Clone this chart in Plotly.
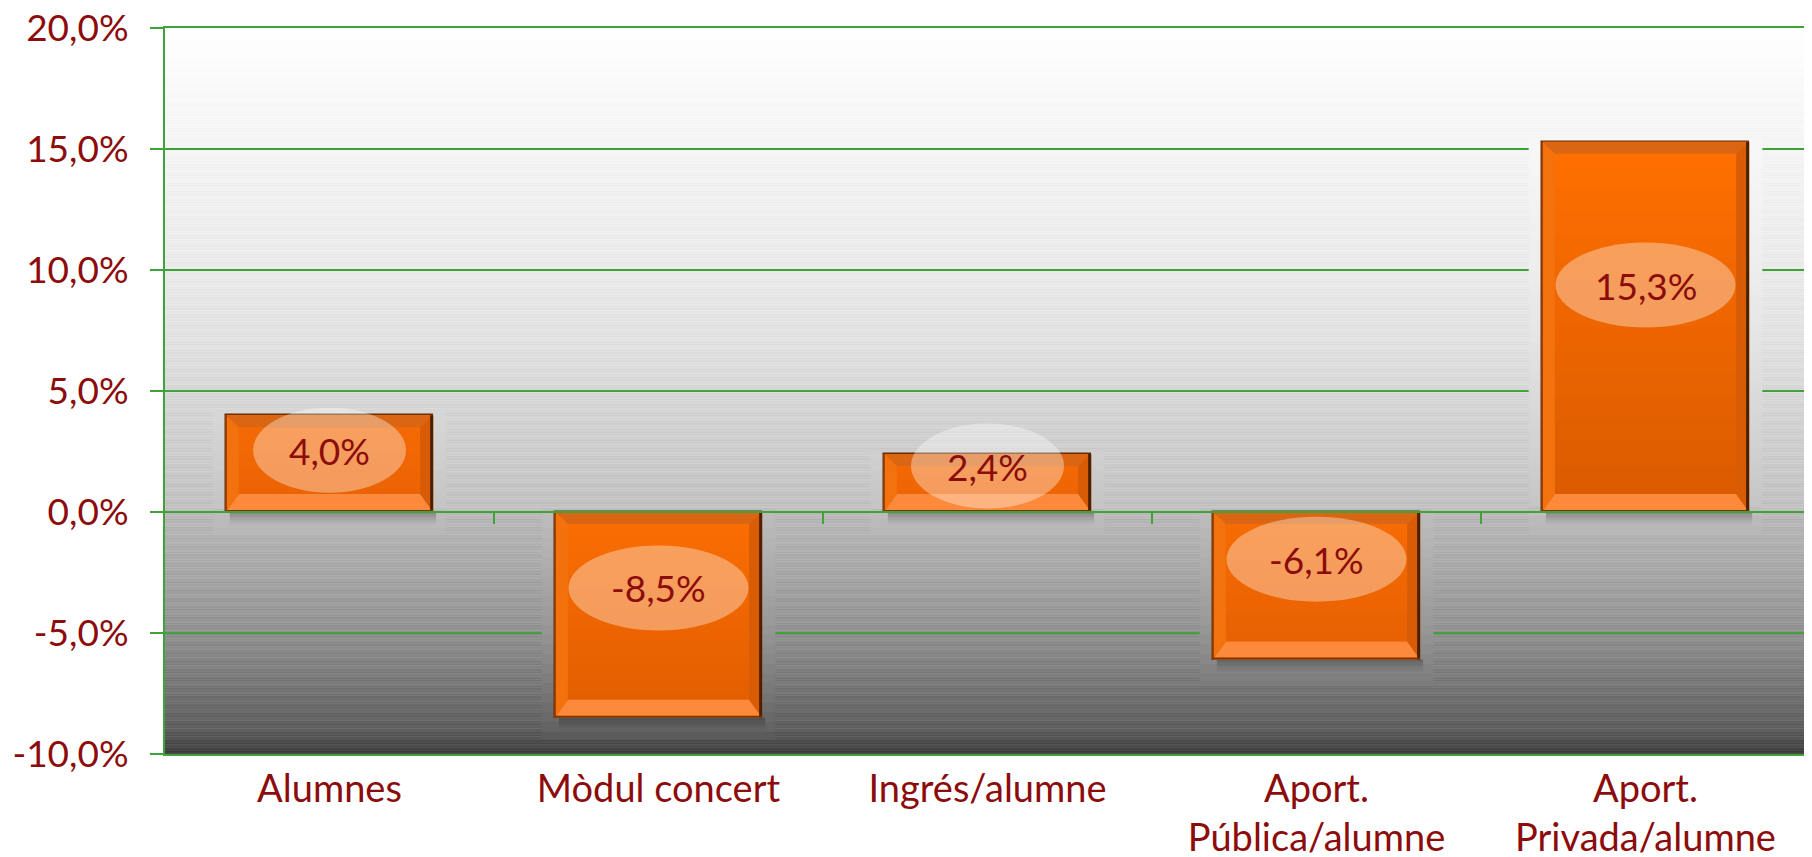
import base64
import math
import struct
import zlib

import plotly.graph_objects as go

# ---------------- data ----------------
categories = ["Alumnes", "Mòdul concert", "Ingrés/alumne",
              "Aport.<br>Pública/alumne", "Aport.<br>Privada/alumne"]
values = [4.0, -8.5, 2.4, -6.1, 15.3]
value_labels = ["4,0%", "-8,5%", "2,4%", "-6,1%", "15,3%"]
label_y = [2.55, -3.14, 1.9, -1.95, 9.38]          # centre of each label bubble (value units)
y_tickvals = [-10, -5, 0, 5, 10, 15, 20]
y_ticktext = ["-10,0%", "-5,0%", "0,0%", "5,0%", "10,0%", "15,0%", "20,0%"]

# ---------------- layout constants ----------------
# the page body has an 8px margin, so the figure is made 8px smaller
W, H = 1804, 849
ML, MR, MT, MB = 157, 2, 20, 103
PLOT_W = W - ML - MR
PLOT_H = H - MT - MB
YMIN, YMAX = -10, 20
XMIN, XMAX = -0.5, 4.5
PX_Y = (YMAX - YMIN) / PLOT_H
PX_X = (XMAX - XMIN) / PLOT_W

GREEN = "#42A23A"
DARKRED = "#8C0C0C"
FONT = "Lato"
BAR_W = 0.63

# ---------------- background gradient ----------------
stops = [(20, 255), (17, 248), (14, 242), (10, 234), (7, 225), (5, 216), (2, 203),
         (0.1, 193), (0, 186), (-2, 172), (-5, 146), (-7, 122), (-9, 95), (-10, 64)]


def gray_at(yv):
    for (ya, ga), (yb, gb) in zip(stops[:-1], stops[1:]):
        if ya >= yv >= yb:
            t = (ya - yv) / (ya - yb) if ya != yb else 0
            return ga + (gb - ga) * t
    return stops[-1][1] if yv < YMIN else stops[0][1]


def make_png(grays, width=2):
    raw = b"".join(b"\x00" + bytes([g] * width) for g in grays)

    def chunk(tag, data):
        return (struct.pack(">I", len(data)) + tag + data +
                struct.pack(">I", zlib.crc32(tag + data) & 0xFFFFFFFF))

    ihdr = struct.pack(">IIBBBBB", width, len(grays), 8, 0, 0, 0, 0)
    return (b"\x89PNG\r\n\x1a\n" + chunk(b"IHDR", ihdr) +
            chunk(b"IDAT", zlib.compress(raw, 9)) + chunk(b"IEND", b""))


rows = []
for r in range(PLOT_H):
    yv = YMAX - (r + 0.5) * PX_Y
    amp = 1.5 + 10.0 * (YMAX - yv) / (YMAX - YMIN)
    s = (math.sin(r * 2.3) + 0.6 * math.sin(r * 0.71 + 1.0)) / 1.6
    g = gray_at(yv) + amp * s
    rows.append(int(max(0, min(255, round(g)))))
bg_uri = "data:image/png;base64," + base64.b64encode(make_png(rows)).decode()

# ---------------- figure ----------------
xs = list(range(len(values)))
fig = go.Figure()
fig.add_trace(go.Bar(
    x=xs, y=values, width=BAR_W,
    marker=dict(color="#F06A08", line=dict(color="#6B2E00", width=1.5)),
    hoverinfo="skip", showlegend=False,
))

shapes = []


def hexc(rgb):
    return "#%02X%02X%02X" % tuple(int(max(0, min(255, round(c)))) for c in rgb)


def path(pts):
    return "M " + " L ".join("%.5f,%.5f" % p for p in pts) + " Z"


for i, v in enumerate(values):
    yt, yb = max(v, 0), min(v, 0)
    x0, x1 = i - BAR_W / 2, i + BAR_W / 2

    # soft halo behind bar (covers gridlines)
    hx0, hx1 = i - 0.355, i + 0.355
    ht, hb = yt + 3 * PX_Y, yb - 21 * PX_Y
    step = 0.4
    yy = ht
    while yy > hb:
        ny = max(hb, yy - step)
        g = gray_at((yy + ny) / 2) + 3
        shapes.append(dict(type="rect", xref="x", yref="y", x0=hx0, x1=hx1,
                           y0=ny - 0.02, y1=yy, fillcolor=hexc((g, g, g)),
                           line=dict(width=0), layer="between"))
        yy = ny
    # drop shadow under visual bottom
    for k, a in enumerate([0.32, 0.24, 0.16, 0.09, 0.04]):
        shapes.append(dict(type="rect", xref="x", yref="y",
                           x0=x0 + 4 * PX_X, x1=x1 + 3 * PX_X,
                           y0=yb - (k + 1) * 2.5 * PX_Y, y1=yb - k * 2.5 * PX_Y,
                           fillcolor="rgba(30,30,30,%.2f)" % a, line=dict(width=0),
                           layer="between"))

    # face gradient
    h = yt - yb
    k_int = min(1.0, h / 14.0)
    top_c = (242 + 13 * k_int, 105 + 7 * k_int, 6 - 6 * k_int)
    bot_c = (238 - 20 * k_int, 100 - 10 * k_int, 6 - 6 * k_int)
    n = 16
    for j in range(n):
        f = (j + 0.5) / n
        c = tuple(top_c[m] + (bot_c[m] - top_c[m]) * f for m in range(3))
        ya = yt - h * j / n
        yb2 = yt - h * (j + 1) / n - (0.02 if j < n - 1 else 0)
        shapes.append(dict(type="rect", xref="x", yref="y", x0=x0, x1=x1,
                           y0=yb2, y1=ya, fillcolor=hexc(c), line=dict(width=0),
                           layer="above"))

    # bevels
    bx = 13 * PX_X
    bt = 12 * PX_Y
    bb = 18 * PX_Y
    shapes.append(dict(type="path", xref="x", yref="y", layer="above",
                       path=path([(x0, yt), (x1, yt), (x1 - bx, yt - bt), (x0 + bx, yt - bt)]),
                       fillcolor="#DA6614", line=dict(width=0)))
    shapes.append(dict(type="path", xref="x", yref="y", layer="above",
                       path=path([(x0, yb), (x1, yb), (x1 - bx, yb + bb), (x0 + bx, yb + bb)]),
                       fillcolor="#FC8A3A", line=dict(width=0)))
    shapes.append(dict(type="path", xref="x", yref="y", layer="above",
                       path=path([(x0, yb), (x0, yt), (x0 + bx, yt - bt), (x0 + bx, yb + bb)]),
                       fillcolor="#F4720E", line=dict(width=0)))
    shapes.append(dict(type="path", xref="x", yref="y", layer="above",
                       path=path([(x1, yb), (x1, yt), (x1 - bx, yt - bt), (x1 - bx, yb + bb)]),
                       fillcolor="#D85C06", line=dict(width=0)))
    # dark edges
    shapes.append(dict(type="line", xref="x", yref="y", layer="above",
                       x0=x1 - 1.5 * PX_X, x1=x1 - 1.5 * PX_X, y0=yb, y1=yt,
                       line=dict(color="#4A2000", width=3)))
    shapes.append(dict(type="line", xref="x", yref="y", layer="above",
                       x0=x0, x1=x1, y0=yb + 1 * PX_Y, y1=yb + 1 * PX_Y,
                       line=dict(color="#7A3200", width=2)))
    shapes.append(dict(type="line", xref="x", yref="y", layer="above",
                       x0=x0 + 0.5 * PX_X, x1=x0 + 0.5 * PX_X, y0=yb, y1=yt,
                       line=dict(color="#8A3A00", width=1)))

    # label bubble
    ew = (153 + (len(value_labels[i]) - 4) * 27) * PX_X
    eh = 85 * PX_Y
    shapes.append(dict(type="circle", xref="x", yref="y", layer="above",
                       x0=i - ew / 2, x1=i + ew / 2,
                       y0=label_y[i] - eh / 2, y1=label_y[i] + eh / 2,
                       fillcolor="rgba(255,255,255,0.36)", line=dict(width=0)))

# zero line above bars
shapes.append(dict(type="line", xref="x domain", yref="y", x0=0, x1=1, y0=0, y1=0,
                   line=dict(color=GREEN, width=2), layer="above"))
# category boundary ticks on the zero line
for i in range(len(values) - 1):
    shapes.append(dict(type="line", xref="x", yref="y", x0=i + 0.5, x1=i + 0.5,
                       y0=0, y1=-12 * PX_Y, line=dict(color=GREEN, width=2),
                       layer="above"))

annotations = [dict(x=i, y=label_y[i], xref="x", yref="y", text=t, showarrow=False,
                    font=dict(family=FONT, size=37, color=DARKRED))
               for i, t in enumerate(value_labels)]

fig.update_layout(
    width=W, height=H,
    margin=dict(l=ML, r=MR, t=MT, b=MB),
    paper_bgcolor="white",
    plot_bgcolor="rgba(0,0,0,0)",
    font=dict(family=FONT, color=DARKRED),
    bargap=0,
    shapes=shapes,
    annotations=annotations,
    images=[dict(source=bg_uri, xref="x", yref="y", x=XMIN, y=YMAX,
                 sizex=XMAX - XMIN, sizey=YMAX - YMIN, xanchor="left", yanchor="top",
                 sizing="stretch", layer="below")],
    xaxis=dict(range=[XMIN, XMAX], tickvals=xs, ticktext=categories,
               showgrid=False, zeroline=False, showline=True, mirror=True,
               linecolor=GREEN, linewidth=2, ticks="", automargin=False,
               ticklabeloverflow="allow",
               tickfont=dict(family=FONT, size=38, color=DARKRED)),
    yaxis=dict(range=[YMIN, YMAX], tickvals=y_tickvals, ticktext=y_ticktext,
               showgrid=True, gridcolor=GREEN, gridwidth=2, zeroline=False,
               showline=True, linecolor=GREEN, linewidth=2, automargin=False,
               ticks="outside", ticklen=13, tickwidth=2, tickcolor=GREEN,
               ticklabelstandoff=14, ticklabeloverflow="allow",
               tickfont=dict(family=FONT, size=37, color=DARKRED)),
)

fig.write_html("out.html")
